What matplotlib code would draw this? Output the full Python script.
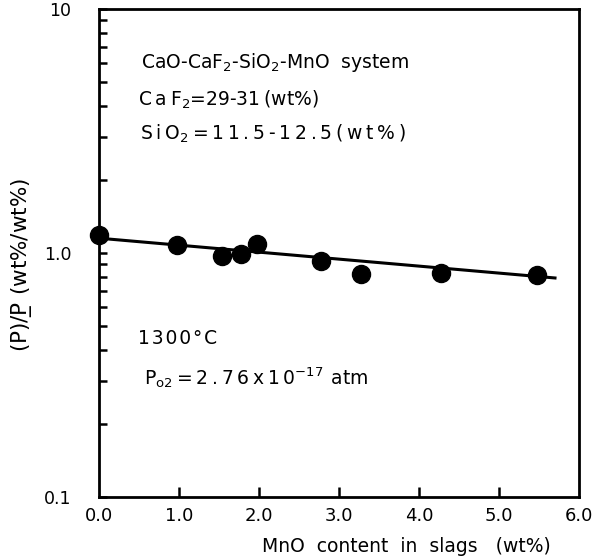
import matplotlib
matplotlib.use("Agg")
import matplotlib.pyplot as plt
from matplotlib.ticker import NullFormatter, LogLocator

mno = [0.0, 0.98, 1.54, 1.78, 1.98, 2.78, 3.28, 4.28, 5.48]
ratio = [1.18, 1.08, 0.97, 0.99, 1.09, 0.93, 0.82, 0.83, 0.81]
fit_x = [0.0, 5.7]
fit_y = [1.15, 0.79]
xticks = [0, 1, 2, 3, 4, 5, 6]
xticklabels = ["0.0", "1.0", "2.0", "3.0", "4.0", "5.0", "6.0"]
yticks = [0.1, 1.0, 10]
yticklabels = ["0.1", "1.0", "10"]

T = "\u2009"  # thin space used for letter spacing
H = "\u200a"  # hair space

plt.rcParams['font.family'] = ['DejaVu Sans']
plt.rcParams['mathtext.fontset'] = 'dejavusans'
fig = plt.figure(figsize=(6.01, 5.57), dpi=100)
ax = fig.add_axes([99/601, 1-497/557, 480/601, 488/557])

ax.set_yscale('log')
ax.set_xlim(0, 6)
ax.set_ylim(0.1, 10)

ax.plot(fit_x, fit_y, color='black', lw=2.2, zorder=2)
ax.plot(mno, ratio, 'o', color='black', markersize=13, zorder=3, clip_on=False)

for s in ax.spines.values():
    s.set_linewidth(2.0)

ax.set_xticks(xticks)
ax.set_xticklabels(xticklabels, fontsize=13)
ax.set_yticks(yticks)
ax.set_yticklabels(yticklabels, fontsize=12.5)
ax.yaxis.set_minor_locator(LogLocator(base=10, subs=[2, 3, 4, 5, 6, 7, 8, 9]))
ax.yaxis.set_minor_formatter(NullFormatter())
ax.tick_params(axis='y', which='both', direction='in', length=6, width=1.8, pad=20, left=True, right=False)
ax.tick_params(axis='x', which='major', direction='in', length=7, width=1.8, pad=7, top=False)
for t in ax.xaxis.get_major_ticks():
    if t.get_loc() in (0, 6):
        t.tick1line.set_visible(False)

ylab = ax.set_ylabel(r"(P)/$\mathrm{P}\!\!\!\!\_\,$ (wt%/wt%)", fontsize=15.5)
ax.yaxis.set_label_coords(-0.135, 0.475)
try:
    fig.canvas.draw()
except Exception:
    ylab.set_text("(P)/P\u0332 (wt%/wt%)")

fig.text(406/601, 1-547/557, "MnO  content  in  slags   (wt%)", fontsize=13.5, ha='center', va='center')

tx = fig.transFigure
ax.text(141/601, 1-62/557, r"CaO-CaF$_2$-SiO$_2$-MnO  system", fontsize=13.5, transform=tx, va='center')
ax.text(138/601, 1-100/557, "C" + T + "a" + T + r"F$_2$=29-31" + T + "(wt%)", fontsize=13.5,
        transform=tx, va='center')
ax.text(140/601, 1-134/557, T.join("Si") + T + r"O$_2$" + T + T.join("=11.5-12.5(wt%)"), fontsize=13.5,
        transform=tx, va='center')
ax.text(138/601, 1-338/557, H.join("1300°C"), fontsize=13.5, transform=tx, va='center')
ax.text(144/601, 1-378/557, r"P$_{\rm o2}$" + T + T.join("=2.76x10") + r"$^{-17}$" + T + T + "atm", fontsize=13.5,
        transform=tx, va='center')

fig.savefig("out.png", dpi=100)
